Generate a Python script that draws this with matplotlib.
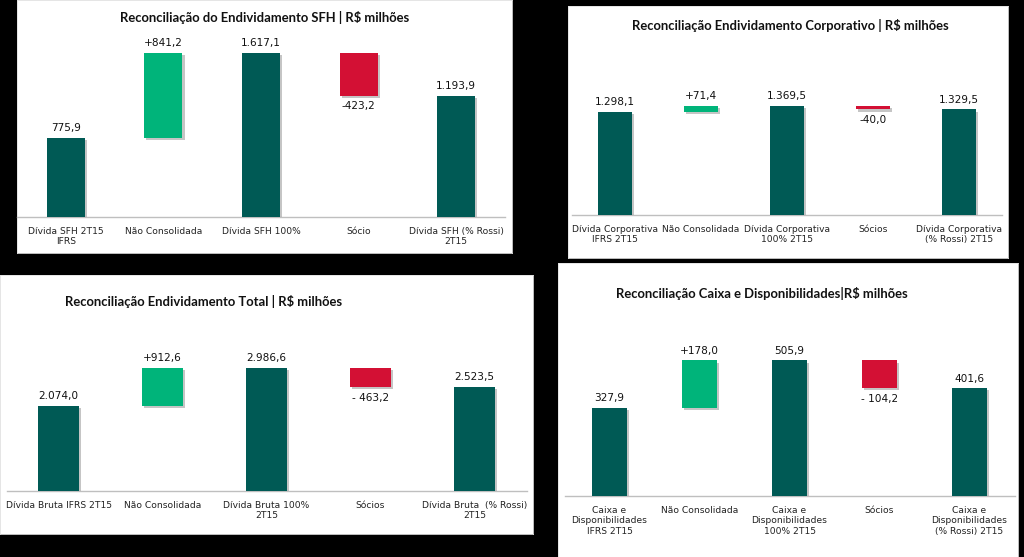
import matplotlib.pyplot as plt
from matplotlib import patheffects as pe

W, H = 1024, 557

teal = '#005a55'
green = '#00b47a'
red = '#d31034'

# --- data ---
sfh_title = 'Reconciliação do Endividamento SFH | R$ milhões'
sfh_labels = ['Dívida SFH 2T15\nIFRS', 'Não Consolidada', 'Dívida SFH 100%',
              'Sócio', 'Dívida SFH (% Rossi)\n2T15']
sfh_values = [775.9, 841.2, 1617.1, -423.2, 1193.9]

corp_title = 'Reconciliação Endividamento Corporativo | R$ milhões'
corp_labels = ['Dívida Corporativa\nIFRS 2T15', 'Não Consolidada',
               'Dívida Corporativa\n100% 2T15', 'Sócios',
               'Dívida Corporativa\n(% Rossi) 2T15']
corp_values = [1298.1, 71.4, 1369.5, -40.0, 1329.5]

total_title = 'Reconciliação Endividamento Total | R$ milhões'
total_labels = ['Dívida Bruta IFRS 2T15', 'Não Consolidada',
                'Dívida Bruta 100%\n2T15', 'Sócios',
                'Dívida Bruta  (% Rossi)\n2T15']
total_values = [2074.0, 912.6, 2986.6, -463.2, 2523.5]

caixa_title = 'Reconciliação Caixa e Disponibilidades|R$ milhões'
caixa_labels = ['Caixa e\nDisponibilidades\nIFRS 2T15', 'Não Consolidada',
                'Caixa e\nDisponibilidades\n100% 2T15', 'Sócios',
                'Caixa e\nDisponibilidades\n(% Rossi) 2T15']
caixa_values = [327.9, 178.0, 505.9, -104.2, 401.6]

kinds = ['total', 'delta', 'total', 'delta', 'total']


def frac(x0, y0, x1, y1):
    return [x0 / W, 1 - y1 / H, (x1 - x0) / W, (y1 - y0) / H]


def br(v):
    s = f'{abs(v):,.1f}'
    return s.replace(',', 'X').replace('.', ',').replace('X', '.')


fig = plt.figure(figsize=(W / 100, H / 100), dpi=100, facecolor='black')


def panel(box, axbox, title, title_xy, labels, values, px_per_unit, neg_sep=''):
    bg = fig.add_axes(frac(*box))
    bg.set_facecolor('white')
    bg.set_xticks([]), bg.set_yticks([])
    for s in bg.spines.values():
        s.set_color('#e0e0e0')
        s.set_linewidth(0.6)
    fig.text(title_xy[0] / W, 1 - title_xy[1] / H, title, ha='center',
             va='center', fontsize=9.4, fontweight='bold', family='Lato',
             color='#111111')

    ax = fig.add_axes(frac(*axbox))
    ax.set_facecolor('none')
    height_px = axbox[3] - axbox[1]
    ax.set_ylim(0, height_px / px_per_unit)
    ax.set_xlim(-0.5, len(values) - 0.5)

    shadow = [pe.SimplePatchShadow(offset=(1.5, -1.5), shadow_rgbFace='#7f7f7f',
                                   alpha=0.45), pe.Normal()]
    running = 0
    for i, (v, k) in enumerate(zip(values, kinds)):
        if k == 'total':
            bottom, h, c = 0, v, teal
            running = v
            txt = br(v)
        elif v >= 0:
            bottom, h, c = running, v, green
            running += v
            txt = '+' + br(v)
        else:
            bottom, h, c = running + v, -v, red
            running += v
            txt = '-' + neg_sep + br(v)
        ax.bar(i, h, bottom=bottom, width=0.39, color=c, path_effects=shadow,
               zorder=3)
        if k == 'delta' and v < 0:
            ax.annotate(txt, (i, bottom), xytext=(0, -4), textcoords='offset points',
                        ha='center', va='top', fontsize=7.6, color='#111111')
        else:
            ax.annotate(txt, (i, bottom + h), xytext=(0, 3.5),
                        textcoords='offset points', ha='center', va='bottom',
                        fontsize=7.6, color='#111111')

    ax.set_xticks(range(len(labels)))
    ax.set_xticklabels(labels, fontsize=6.6, color='#222222', linespacing=1.25)
    ax.tick_params(axis='x', length=0, pad=7)
    ax.set_yticks([])
    for s in ['top', 'left', 'right']:
        ax.spines[s].set_visible(False)
    ax.spines['bottom'].set_color('#bfbfbf')
    ax.spines['bottom'].set_linewidth(1.0)


panel((17, 0, 512, 253), (17, 30, 505, 217), sfh_title, (265, 17),
      sfh_labels, sfh_values, 0.1014)
panel((568, 6, 1008, 258), (572, 40, 1002, 215), corp_title, (790, 25),
      corp_labels, corp_values, 0.0794)
panel((0, 275, 533, 534), (6.5, 320, 526.5, 491), total_title, (204, 302),
      total_labels, total_values, 0.0412, neg_sep=' ')
panel((558, 263, 1018, 557), (564.5, 310, 1014.5, 496), caixa_title, (762, 293),
      caixa_labels, caixa_values, 0.268, neg_sep=' ')

fig.savefig('out.png', dpi=100, facecolor='black')
